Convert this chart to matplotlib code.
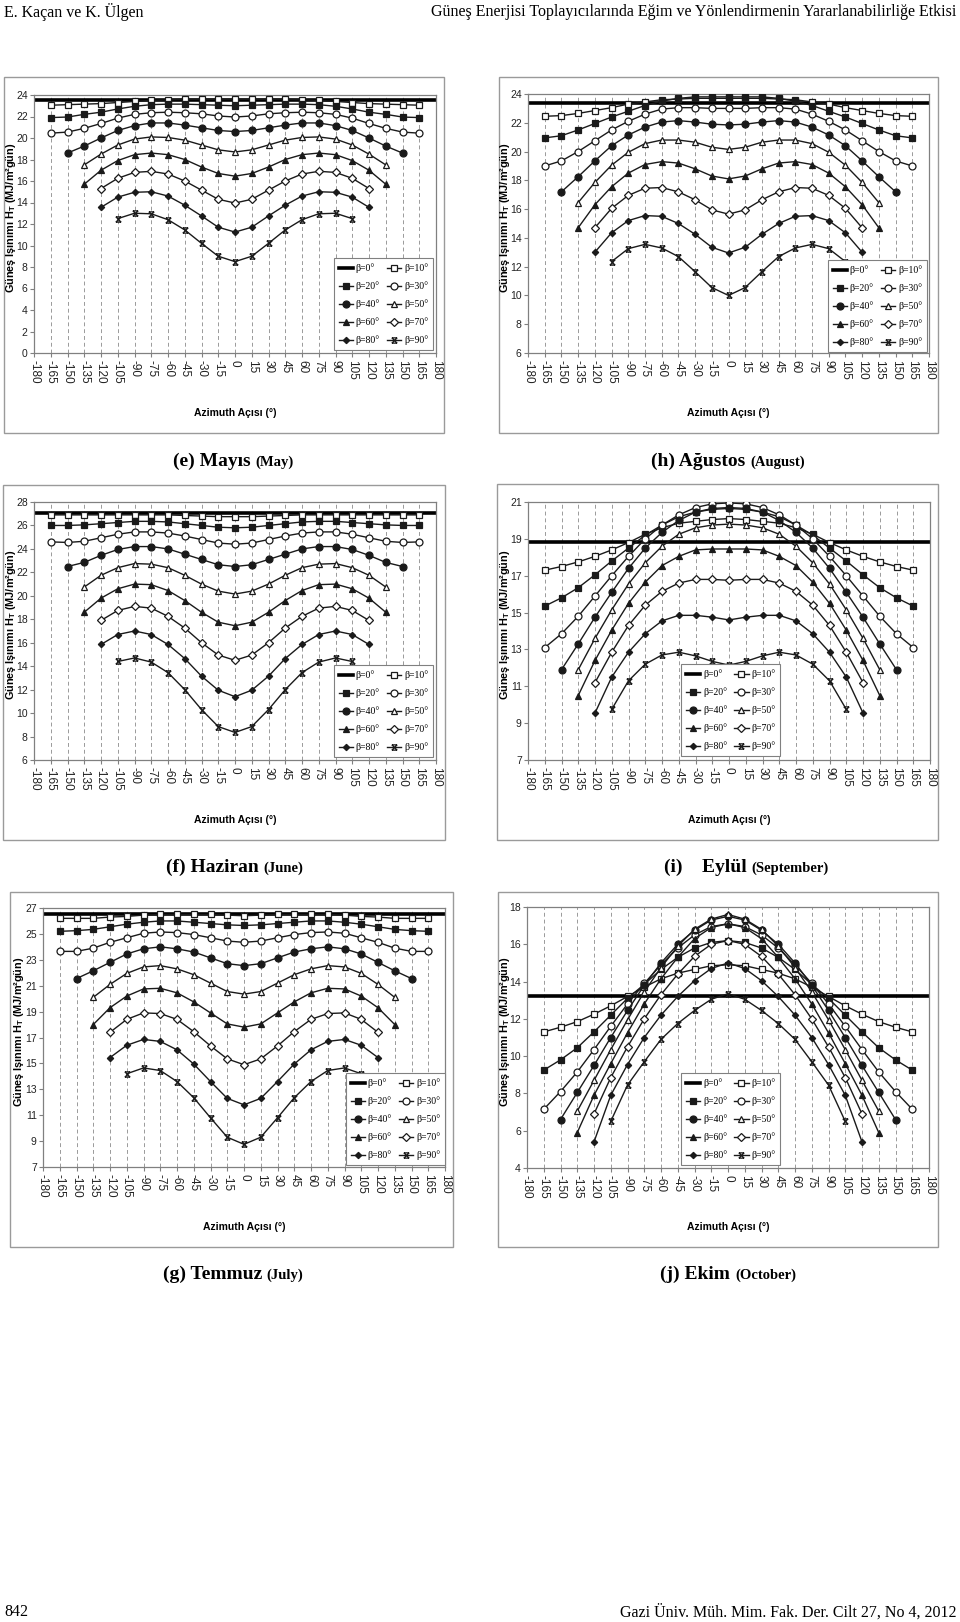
import matplotlib
matplotlib.use("Agg")
import matplotlib.pyplot as plt
from matplotlib.patches import Rectangle
from matplotlib.path import Path

W, H = 960, 1622

plt.rcParams['font.family'] = ['Liberation Sans', 'DejaVu Sans']
plt.rcParams['axes.unicode_minus'] = False
plt.rcParams['mathtext.fontset'] = 'custom'
plt.rcParams['mathtext.rm'] = 'Liberation Sans'
plt.rcParams['mathtext.bf'] = 'Liberation Sans:bold'

# ---- data: daily total radiation H_T (MJ/m2 day) vs surface azimuth ----
betas = [0, 10, 20, 30, 40, 50, 60, 70, 80, 90]
# largest |azimuth| plotted for beta = 10..90
az_limits = [165, 165, 165, 150, 135, 135, 120, 120, 105]
x_ticks = list(range(-180, 181, 15))

# (e) May
may_h0 = 23.5
may_h = [
    [23.05, 23.1, 23.15, 23.2, 23.3, 23.4, 23.5, 23.55, 23.6, 23.6, 23.6, 23.6, 23.6, 23.6, 23.6, 23.55, 23.5, 23.4, 23.3, 23.2, 23.15, 23.1, 23.05],
    [21.9, 21.95, 22.2, 22.4, 22.7, 22.95, 23.1, 23.15, 23.15, 23.1, 23.05, 23.0, 23.05, 23.1, 23.15, 23.15, 23.1, 22.95, 22.7, 22.4, 22.2, 21.95, 21.9],
    [20.45, 20.55, 20.9, 21.35, 21.85, 22.2, 22.35, 22.4, 22.35, 22.25, 22.05, 21.95, 22.05, 22.25, 22.35, 22.4, 22.35, 22.2, 21.85, 21.35, 20.9, 20.55, 20.45],
    [18.6, 19.25, 20.0, 20.7, 21.15, 21.4, 21.4, 21.2, 20.95, 20.7, 20.6, 20.7, 20.95, 21.2, 21.4, 21.4, 21.15, 20.7, 20.0, 19.25, 18.6],
    [17.5, 18.5, 19.35, 19.9, 20.1, 20.05, 19.8, 19.35, 18.9, 18.7, 18.9, 19.35, 19.8, 20.05, 20.1, 19.9, 19.35, 18.5, 17.5],
    [15.7, 17.0, 17.9, 18.45, 18.6, 18.45, 18.0, 17.3, 16.7, 16.45, 16.7, 17.3, 18.0, 18.45, 18.6, 18.45, 17.9, 17.0, 15.7],
    [15.3, 16.25, 16.8, 16.9, 16.65, 16.0, 15.15, 14.3, 13.95, 14.3, 15.15, 16.0, 16.65, 16.9, 16.8, 16.25, 15.3],
    [13.55, 14.5, 14.95, 15.0, 14.6, 13.75, 12.75, 11.7, 11.25, 11.7, 12.75, 13.75, 14.6, 15.0, 14.95, 14.5, 13.55],
    [12.5, 13.0, 12.95, 12.4, 11.45, 10.2, 9.0, 8.5, 9.0, 10.2, 11.45, 12.4, 12.95, 13.0, 12.5],
]

# (h) August
aug_h0 = 23.35
aug_h = [
    [22.45, 22.5, 22.65, 22.85, 23.05, 23.3, 23.45, 23.6, 23.65, 23.7, 23.7, 23.7, 23.7, 23.7, 23.65, 23.6, 23.45, 23.3, 23.05, 22.85, 22.65, 22.5, 22.45],
    [20.95, 21.1, 21.5, 21.95, 22.4, 22.8, 23.2, 23.5, 23.7, 23.8, 23.8, 23.8, 23.8, 23.8, 23.7, 23.5, 23.2, 22.8, 22.4, 21.95, 21.5, 21.1, 20.95],
    [19.0, 19.35, 20.0, 20.75, 21.5, 22.1, 22.6, 22.95, 23.05, 23.05, 23.0, 23.0, 23.0, 23.05, 23.05, 22.95, 22.6, 22.1, 21.5, 20.75, 20.0, 19.35, 19.0],
    [17.2, 18.25, 19.35, 20.4, 21.15, 21.7, 22.05, 22.15, 22.05, 21.9, 21.85, 21.9, 22.05, 22.15, 22.05, 21.7, 21.15, 20.4, 19.35, 18.25, 17.2],
    [16.45, 17.85, 19.05, 19.95, 20.55, 20.8, 20.8, 20.65, 20.3, 20.15, 20.3, 20.65, 20.8, 20.8, 20.55, 19.95, 19.05, 17.85, 16.45],
    [14.7, 16.3, 17.55, 18.5, 19.1, 19.3, 19.2, 18.8, 18.3, 18.1, 18.3, 18.8, 19.2, 19.3, 19.1, 18.5, 17.55, 16.3, 14.7],
    [14.7, 16.05, 16.95, 17.45, 17.5, 17.2, 16.65, 15.95, 15.65, 15.95, 16.65, 17.2, 17.5, 17.45, 16.95, 16.05, 14.7],
    [13.0, 14.35, 15.2, 15.55, 15.5, 15.0, 14.25, 13.35, 12.95, 13.35, 14.25, 15.0, 15.5, 15.55, 15.2, 14.35, 13.0],
    [12.35, 13.25, 13.55, 13.3, 12.7, 11.65, 10.55, 10.0, 10.55, 11.65, 12.7, 13.3, 13.55, 13.25, 12.35],
]

# (f) June
jun_h0 = 27.1
jun_h = [
    [26.9, 26.9, 26.9, 26.9, 26.9, 26.9, 26.9, 26.9, 26.85, 26.8, 26.75, 26.75, 26.75, 26.8, 26.85, 26.9, 26.9, 26.9, 26.9, 26.9, 26.9, 26.9, 26.9],
    [26.0, 26.0, 26.05, 26.15, 26.25, 26.35, 26.35, 26.3, 26.15, 26.0, 25.85, 25.8, 25.85, 26.0, 26.15, 26.3, 26.35, 26.35, 26.25, 26.15, 26.05, 26.0, 26.0],
    [24.6, 24.55, 24.65, 24.95, 25.25, 25.45, 25.45, 25.35, 25.1, 24.8, 24.5, 24.4, 24.5, 24.8, 25.1, 25.35, 25.45, 25.45, 25.25, 24.95, 24.65, 24.55, 24.6],
    [22.5, 22.85, 23.45, 23.95, 24.2, 24.2, 24.0, 23.55, 23.1, 22.65, 22.5, 22.65, 23.1, 23.55, 24.0, 24.2, 24.2, 23.95, 23.45, 22.85, 22.5],
    [20.75, 21.75, 22.4, 22.75, 22.7, 22.4, 21.75, 21.0, 20.4, 20.15, 20.4, 21.0, 21.75, 22.4, 22.7, 22.75, 22.4, 21.75, 20.75],
    [18.6, 19.8, 20.6, 21.0, 20.95, 20.45, 19.6, 18.6, 17.75, 17.45, 17.75, 18.6, 19.6, 20.45, 20.95, 21.0, 20.6, 19.8, 18.6],
    [17.9, 18.75, 19.1, 18.95, 18.25, 17.25, 16.0, 14.95, 14.5, 14.95, 16.0, 17.25, 18.25, 18.95, 19.1, 18.75, 17.9],
    [15.85, 16.7, 17.0, 16.7, 15.85, 14.65, 13.15, 11.95, 11.4, 11.95, 13.15, 14.65, 15.85, 16.7, 17.0, 16.7, 15.85],
    [14.4, 14.7, 14.35, 13.45, 12.0, 10.3, 8.85, 8.35, 8.85, 10.3, 12.0, 13.45, 14.35, 14.7, 14.4],
]

# (i) September
sep_h0 = 18.85
sep_h = [
    [17.3, 17.5, 17.75, 18.05, 18.4, 18.8, 19.25, 19.6, 19.85, 19.95, 20.05, 20.1, 20.05, 19.95, 19.85, 19.6, 19.25, 18.8, 18.4, 18.05, 17.75, 17.5, 17.3],
    [15.35, 15.8, 16.35, 17.05, 17.8, 18.5, 19.2, 19.75, 20.2, 20.45, 20.6, 20.65, 20.6, 20.45, 20.2, 19.75, 19.2, 18.5, 17.8, 17.05, 16.35, 15.8, 15.35],
    [13.1, 13.85, 14.8, 15.9, 17.0, 18.05, 19.0, 19.75, 20.3, 20.7, 20.9, 20.95, 20.9, 20.7, 20.3, 19.75, 19.0, 18.05, 17.0, 15.9, 14.8, 13.85, 13.1],
    [11.9, 13.3, 14.75, 16.1, 17.4, 18.5, 19.35, 20.0, 20.45, 20.65, 20.7, 20.65, 20.45, 20.0, 19.35, 18.5, 17.4, 16.1, 14.75, 13.3, 11.9],
    [11.9, 13.6, 15.15, 16.55, 17.7, 18.6, 19.25, 19.6, 19.75, 19.8, 19.75, 19.6, 19.25, 18.6, 17.7, 16.55, 15.15, 13.6, 11.9],
    [10.5, 12.4, 14.05, 15.5, 16.65, 17.55, 18.05, 18.4, 18.45, 18.45, 18.45, 18.4, 18.05, 17.55, 16.65, 15.5, 14.05, 12.4, 10.5],
    [11.2, 12.85, 14.3, 15.4, 16.15, 16.6, 16.8, 16.8, 16.75, 16.8, 16.8, 16.6, 16.15, 15.4, 14.3, 12.85, 11.2],
    [9.55, 11.5, 12.85, 13.85, 14.55, 14.85, 14.85, 14.75, 14.6, 14.75, 14.85, 14.85, 14.55, 13.85, 12.85, 11.5, 9.55],
    [9.75, 11.3, 12.2, 12.7, 12.85, 12.65, 12.35, 12.15, 12.35, 12.65, 12.85, 12.7, 12.2, 11.3, 9.75],
]

# (g) July
jul_h0 = 26.55
jul_h = [
    [26.2, 26.2, 26.2, 26.3, 26.35, 26.45, 26.5, 26.5, 26.5, 26.5, 26.45, 26.4, 26.45, 26.5, 26.5, 26.5, 26.5, 26.45, 26.35, 26.3, 26.2, 26.2, 26.2],
    [25.2, 25.25, 25.35, 25.55, 25.75, 25.9, 26.0, 26.0, 25.9, 25.8, 25.7, 25.65, 25.7, 25.8, 25.9, 26.0, 26.0, 25.9, 25.75, 25.55, 25.35, 25.25, 25.2],
    [23.65, 23.65, 23.9, 24.35, 24.7, 25.05, 25.15, 25.1, 24.95, 24.7, 24.45, 24.35, 24.45, 24.7, 24.95, 25.1, 25.15, 25.05, 24.7, 24.35, 23.9, 23.65, 23.65],
    [21.55, 22.15, 22.8, 23.45, 23.85, 24.0, 23.85, 23.6, 23.15, 22.7, 22.55, 22.7, 23.15, 23.6, 23.85, 24.0, 23.85, 23.45, 22.8, 22.15, 21.55],
    [20.1, 21.1, 21.95, 22.45, 22.55, 22.3, 21.85, 21.2, 20.55, 20.35, 20.55, 21.2, 21.85, 22.3, 22.55, 22.45, 21.95, 21.1, 20.1],
    [18.0, 19.3, 20.2, 20.75, 20.8, 20.45, 19.75, 18.9, 18.05, 17.8, 18.05, 18.9, 19.75, 20.45, 20.8, 20.75, 20.2, 19.3, 18.0],
    [17.4, 18.4, 18.9, 18.85, 18.4, 17.45, 16.35, 15.35, 14.9, 15.35, 16.35, 17.45, 18.4, 18.85, 18.9, 18.4, 17.4],
    [15.45, 16.4, 16.85, 16.7, 16.05, 14.95, 13.6, 12.3, 11.8, 12.3, 13.6, 14.95, 16.05, 16.7, 16.85, 16.4, 15.45],
    [14.2, 14.65, 14.45, 13.6, 12.35, 10.8, 9.3, 8.75, 9.3, 10.8, 12.35, 13.6, 14.45, 14.65, 14.2],
]

# (j) October
oct_h0 = 13.2
oct_h = [
    [11.3, 11.55, 11.85, 12.25, 12.7, 13.2, 13.7, 14.15, 14.45, 14.65, 14.85, 14.9, 14.85, 14.65, 14.45, 14.15, 13.7, 13.2, 12.7, 12.25, 11.85, 11.55, 11.3],
    [9.25, 9.8, 10.45, 11.3, 12.2, 13.1, 13.85, 14.65, 15.3, 15.8, 16.1, 16.2, 16.1, 15.8, 15.3, 14.65, 13.85, 13.1, 12.2, 11.3, 10.45, 9.8, 9.25],
    [7.15, 8.1, 9.15, 10.35, 11.6, 12.8, 13.9, 14.9, 15.8, 16.5, 16.95, 17.1, 16.95, 16.5, 15.8, 14.9, 13.9, 12.8, 11.6, 10.35, 9.15, 8.1, 7.15],
    [6.6, 8.05, 9.5, 11.0, 12.45, 13.8, 15.0, 16.0, 16.75, 17.3, 17.5, 17.3, 16.75, 16.0, 15.0, 13.8, 12.45, 11.0, 9.5, 8.05, 6.6],
    [7.05, 8.7, 10.35, 11.95, 13.45, 14.75, 15.9, 16.8, 17.35, 17.6, 17.35, 16.8, 15.9, 14.75, 13.45, 11.95, 10.35, 8.7, 7.05],
    [5.9, 7.9, 9.6, 11.25, 12.8, 14.15, 15.3, 16.3, 16.9, 17.1, 16.9, 16.3, 15.3, 14.15, 12.8, 11.25, 9.6, 7.9, 5.9],
    [6.9, 8.85, 10.5, 12.0, 13.3, 14.4, 15.35, 16.0, 16.2, 16.0, 15.35, 14.4, 13.3, 12.0, 10.5, 8.85, 6.9],
    [5.4, 7.9, 9.55, 11.0, 12.2, 13.2, 14.05, 14.7, 15.0, 14.7, 14.05, 13.2, 12.2, 11.0, 9.55, 7.9, 5.4],
    [6.5, 8.45, 9.7, 10.9, 11.75, 12.45, 13.05, 13.35, 13.05, 12.45, 11.75, 10.9, 9.7, 8.45, 6.5],
]

# ---- styles ----
INK = '#1a1a1a'
xbar = Path([(-1, 1), (1, -1), (-1, -1), (1, 1), (-1, 1), (1, 1), (-1, -1), (1, -1)],
            [Path.MOVETO, Path.LINETO] * 4)
# marker, filled?, size for beta = 10..90
styles = [('s', False, 5.0), ('s', True, 5.0), ('o', False, 5.0), ('o', True, 5.0),
          ('^', False, 4.5), ('^', True, 5.0), ('D', False, 3.6), ('D', True, 3.2),
          (xbar, False, 3.8)]


def fx(x):
    return x / W


def fy(y):
    return 1 - y / H


fig = plt.figure(figsize=(W / 100, H / 100), dpi=100)

# header / footer
serif = ['Liberation Serif', 'DejaVu Serif']
fig.text(fx(4), fy(12), 'E. Kaçan ve K. Ülgen', family=serif, fontsize=11.5, va='center', ha='left')
fig.text(fx(956), fy(12), 'Güneş Enerjisi Toplayıcılarında Eğim ve Yönlendirmenin Yararlanabilirliğe Etkisi',
         family=serif, fontsize=11.5, va='center', ha='right')
fig.text(fx(4), fy(1612), '842', family=serif, fontsize=11.5, va='center', ha='left')
fig.text(fx(956), fy(1612), 'Gazi Üniv. Müh. Mim. Fak. Der. Cilt 27, No 4, 2012',
         family=serif, fontsize=11.5, va='center', ha='right')

# panel layout: data, y range, plot area px (l, t, r, b), frame px, legend anchor,
# y-label x, captions
panels = [
    (may_h0, may_h, 0, 24, (34, 95, 436, 353), (4, 77, 444, 433), ('lower right', 433, 350), 11,
     '(e) Mayıs ', '(May)', 233, 466),
    (aug_h0, aug_h, 6, 24, (528, 94, 929, 353), (499, 77, 938, 433), ('lower right', 927, 352), 505,
     '(h) Ağustos ', '(August)', 728, 466),
    (jun_h0, jun_h, 6, 28, (34, 502, 436, 760), (3, 485, 445, 840), ('lower right', 433, 757), 11,
     '(f) Haziran ', '(June)', 235, 872),
    (sep_h0, sep_h, 7, 21, (528, 502, 930, 760), (497, 484, 938, 840), ('lower left', 681, 756), 505,
     '(i)    Eylül ', '(September)', 746, 872),
    (jul_h0, jul_h, 7, 27, (43, 908, 445, 1167), (10, 892, 453, 1247), ('lower right', 445, 1165), 19,
     '(g) Temmuz ', '(July)', 233, 1279),
    (oct_h0, oct_h, 4, 18, (527, 907, 929, 1168), (498, 892, 938, 1247), ('lower left', 681, 1165), 505,
     '(j) Ekim ', '(October)', 728, 1279),
]

captions = []
for (h0, series, y0, y1, (l, t, r, b), (bl, bt, br, bb), (lloc, lx, ly), ylx,
     cap1, cap2, cx, cy) in panels:
    fig.add_artist(Rectangle((fx(bl), fy(bb)), (br - bl) / W, (bb - bt) / H, transform=fig.transFigure,
                             facecolor='white', edgecolor='#9a9a9a', lw=1.0, zorder=-5))
    ax = fig.add_axes([fx(l), fy(b), (r - l) / W, (b - t) / H])

    ax.plot(x_ticks, [h0] * len(x_ticks), color='black', lw=2.6, label='β=0°', zorder=2)
    for beta, lim, vals, (mk, filled, ms) in zip(betas[1:], az_limits, series, styles):
        az = list(range(-lim, lim + 1, 15))
        ax.plot(az, vals, color=INK, lw=1.0, marker=mk, ms=ms, mew=0.9, mec=INK,
                mfc=INK if filled else 'white', label='β=%d°' % beta, zorder=3)

    ax.set_xlim(-180, 180)
    ax.set_ylim(y0, y1)
    ax.set_xticks(x_ticks)
    ax.set_xticklabels([str(v) for v in x_ticks], rotation=270, fontsize=8.5, color='#222222')
    ax.set_yticks(range(y0, y1 + 1, 2))
    ax.tick_params(axis='y', labelsize=7.5, labelcolor='#222222', pad=1.5)
    ax.tick_params(axis='x', pad=2)
    ax.tick_params(direction='out', length=3, color='#808080', width=0.8)
    ax.xaxis.grid(True, ls=(0, (4, 3)), color='#9a9a9a', lw=0.7)
    ax.set_axisbelow(True)
    for s in ax.spines.values():
        s.set_color('#808080')
        s.set_linewidth(0.9)

    hs, ls = ax.get_legend_handles_labels()
    order = [0, 2, 4, 6, 8, 1, 3, 5, 7, 9]
    leg = ax.legend([hs[i] for i in order], [ls[i] for i in order], ncol=2, loc=lloc,
                    bbox_to_anchor=(fx(lx), fy(ly)), bbox_transform=fig.transFigure,
                    prop={'family': serif, 'size': 7}, frameon=True, fancybox=False,
                    framealpha=1, edgecolor='#808080', borderpad=0.5, labelspacing=0.85,
                    handlelength=1.5, handletextpad=0.25, columnspacing=0.7, borderaxespad=0)
    leg.get_frame().set_linewidth(0.8)
    leg.set_zorder(10)

    fig.text(fx(ylx), fy((t + b) / 2 - 6), 'Güneş Işınımı $\\mathbf{H_T}$ (MJ/m²gün)',
             rotation=90, fontsize=7.8, fontweight='bold', ha='center', va='center')
    fig.text(fx((l + r) / 2), fy(bb - 20), 'Azimuth Açısı (°)', fontsize=7.5,
             fontweight='bold', ha='center', va='center')

    t1 = fig.text(0, fy(cy), cap1, family=serif, fontsize=14, fontweight='bold', va='baseline')
    t2 = fig.text(0, fy(cy), cap2, family=serif, fontsize=10.5, fontweight='bold', va='baseline')
    captions.append((t1, t2, cx))

fig.canvas.draw()
rend = fig.canvas.get_renderer()
for t1, t2, cx in captions:
    w1 = t1.get_window_extent(rend).width
    w2 = t2.get_window_extent(rend).width
    x0 = cx - (w1 + w2) / 2
    t1.set_x(fx(x0))
    t2.set_x(fx(x0 + w1))

fig.savefig('out.png', dpi=100, facecolor='white')
